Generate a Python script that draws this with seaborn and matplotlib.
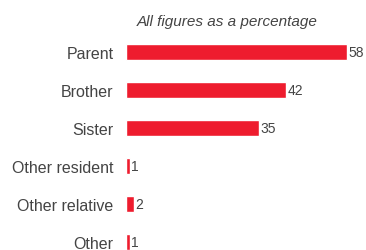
import matplotlib
matplotlib.use("Agg")
import matplotlib.pyplot as plt
import pandas as pd
import seaborn as sns

categories = ["Parent", "Brother", "Sister", "Other resident", "Other relative", "Other"]
values = [58, 42, 35, 1, 2, 1]
subtitle = "All figures as a percentage"

sns.set_style("white")
plt.rcParams["font.family"] = ["Liberation Sans", "DejaVu Sans"]

df = pd.DataFrame({"relation": categories, "pct": values})

fig = plt.figure(figsize=(3.66, 2.51), dpi=100)
ax = fig.add_axes([126 / 366, 0, 240 / 366, 221 / 251])

sns.barplot(data=df, x="pct", y="relation", color="#ee1c2e", width=0.44,
            saturation=1, ax=ax)
ax.bar_label(ax.containers[0], padding=1, fontsize=10, color="#444444")

ax.set_xlim(0, 63)
ax.set_ylim(5.21, -0.605)
ax.set_xlabel("")
ax.set_ylabel("")
ax.set_xticks([])
ax.tick_params(axis="y", length=0, pad=9, labelsize=11.5, labelcolor="#444444")
sns.despine(ax=ax, left=True, bottom=True)

fig.text(227 / 366, 1 - 22 / 251, subtitle, ha="center", va="center",
         fontsize=11, style="italic", color="#444444")

fig.savefig("out.png", dpi=100)
